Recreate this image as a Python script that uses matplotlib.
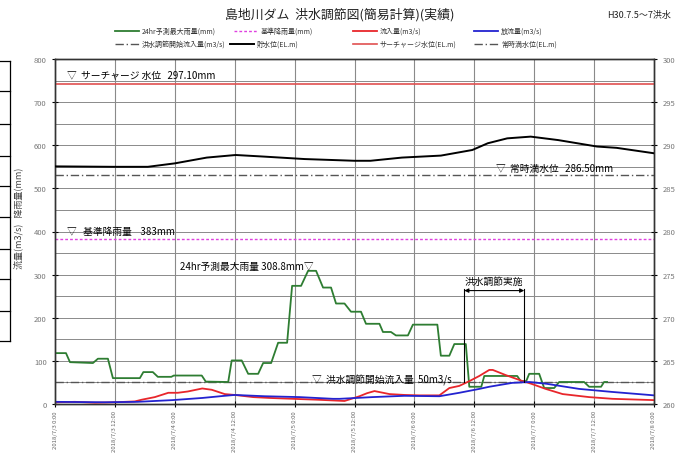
import matplotlib
matplotlib.use("Agg")
import matplotlib.pyplot as plt
from matplotlib.lines import Line2D
import numpy as np

plt.rcParams['font.family'] = ['Noto Sans CJK JP', 'DejaVu Sans']

# hours from 2018/7/3 0:00
tick_hours = [0, 12, 24, 36, 48, 60, 72, 84, 96, 108, 120]
tick_labels = ['2018/7/3 0:00', '2018/7/3 12:00', '2018/7/4 0:00', '2018/7/4 12:00',
               '2018/7/5 0:00', '2018/7/5 12:00', '2018/7/6 0:00', '2018/7/6 12:00',
               '2018/7/7 0:00', '2018/7/7 12:00', '2018/7/8 0:00']

# 24hr forecast maximum rainfall (mm)
rain_h = [0, 2.2, 3, 7.6, 8.6, 10.6, 11.6, 17, 17.7, 19.6, 20.6, 23.3, 23.8, 29.4, 30.2, 34.7,
          35.4, 37.4, 38.7, 40.7, 41.7, 43.3, 44.7, 46.5, 47.5, 49.3, 50.7, 52.3, 53.7, 55.3,
          56.3, 58, 59.3, 61.3, 62.3, 65, 65.7, 67.3, 68.3, 70.7, 71.7, 76.6, 77.3, 79, 80,
          82.3, 83, 85.4, 86, 92.6, 93.3, 94.4, 95, 97, 98, 100, 101, 106, 107, 109.4, 110, 110.6]
rain_v = [118, 118, 97, 95, 105, 105, 60, 60, 74, 74, 63, 63, 66, 66, 52, 51,
          101, 101, 70, 70, 95, 95, 142, 142, 274, 274, 308.8, 308.8, 270, 270,
          233, 233, 214, 214, 186, 186, 167, 167, 159, 159, 184, 184, 112, 112, 139,
          139, 40, 40, 65, 65, 53, 53, 70, 70, 37, 37, 51, 51, 40, 40, 51, 51]

# inflow (m3/s)
inflow_h = [0, 4, 8, 12, 16, 17.4, 20, 22.7, 24.6, 26.6, 29.5, 31.4, 34, 36, 39.7, 43, 47.7,
            52.4, 58, 61, 62.5, 64, 67, 70, 73, 77, 79, 81, 83, 85, 87, 87.7, 90.3, 93.7,
            95.4, 98.3, 101.7, 107, 111.7, 120]
inflow_v = [4, 5, 3, 4, 6, 10, 16, 26, 26, 29, 36, 33, 23, 21, 16, 14, 12,
            10, 7, 18, 25, 30, 23, 21, 20, 20, 37, 42, 53, 65, 79, 79, 67, 53,
            47, 35, 23, 16, 12, 9]

# outflow (m3/s)
outflow_h = [0, 10, 16.5, 23.5, 29.5, 34, 36, 42, 49, 55.7, 57, 63.6, 70, 77, 81, 85, 87,
             91.6, 95, 98.4, 105, 111.6, 119, 120]
outflow_v = [5, 4, 5, 9, 14, 19, 21, 18, 16, 12, 12, 16, 19, 18, 26, 35, 40,
             49, 51, 47, 35, 28, 21, 20]

# reservoir level (EL.m)
level_h = [0, 11.6, 18.6, 24, 30.4, 36.2, 42, 50, 60, 63.2, 69.5, 77.3, 83.6, 86.7, 90.6,
           95.3, 100.8, 108.6, 112.5, 120]
level_v = [287.55, 287.5, 287.5, 287.9, 288.57, 288.87, 288.68, 288.4, 288.2, 288.2, 288.57,
           288.8, 289.45, 290.23, 290.8, 291.0, 290.6, 289.85, 289.7, 289.07]

surcharge_level = 297.10
normal_level = 286.50
base_rain = 383
start_inflow = 50
control_start, control_end = 82, 94

fig = plt.figure(figsize=(6.75, 4.56), dpi=100)
ax = fig.add_axes([55 / 675, 51 / 456, 599 / 675, 345 / 456])
ax2 = ax.twinx()

ax.set_xlim(0, 120)
ax.set_ylim(0, 800)
ax2.set_ylim(260, 300)

# grid
for y in np.arange(50, 800, 50):
    ax.axhline(y, color='#8a8a8a', lw=0.7, zorder=0)
for h in tick_hours[1:-1]:
    ax.axvline(h, color='#8a8a8a', lw=0.8, zorder=0)

dashdot = (0, (6, 2, 1, 2))
ax.plot(rain_h, rain_v, color='#2e7d32', lw=1.3, zorder=3)
ax.plot(inflow_h, inflow_v, color='#e8262b', lw=1.3, zorder=3)
ax.plot(outflow_h, outflow_v, color='#2323d0', lw=1.3, zorder=3)
ax.axhline(base_rain, color='#e040e0', lw=1.0, ls=(0, (2, 1.5)), zorder=2)
ax.axhline(start_inflow, color='#555555', lw=1.0, ls=dashdot, zorder=2)

ax2.plot(level_h, level_v, color='black', lw=1.4, zorder=3)
ax2.axhline(surcharge_level, color='#e05050', lw=1.2, zorder=2)
ax2.axhline(normal_level, color='#555555', lw=1.0, ls=dashdot, zorder=2)

# annotations
fs = 7
ax.text(2.4, 763, '▽  サーチャージ 水位   297.10mm', fontsize=fs, va='center', ha='left')
ax.text(88.4, 547, '▽  常時満水位   286.50mm', fontsize=fs, va='center', ha='left')
ax.text(2.4, 402, '▽   基準降雨量    383mm', fontsize=fs, va='center', ha='left')
ax.text(51.8, 319, '24hr予測最大雨量 308.8mm▽', fontsize=fs, va='center', ha='right')
ax.text(51.4, 58, '▽  洪水調節開始流入量  50m3/s', fontsize=fs, va='center', ha='left')
ax.text((control_start + control_end) / 2, 286, '洪水調節実施', fontsize=fs, va='center', ha='center')
for h in (control_start, control_end):
    ax.plot([h, h], [51, 267], color='black', lw=0.8, zorder=4)
ax.annotate('', xy=(control_start, 263), xytext=(control_end, 263),
            arrowprops=dict(arrowstyle='<|-|>', color='black', lw=0.8,
                            mutation_scale=6, shrinkA=0, shrinkB=0))

# axes and ticks
ax.set_yticks(np.arange(0, 801, 100))
ax2.set_yticks(np.arange(260, 301, 5))
ax.set_xticks(tick_hours)
ax.set_xticklabels(tick_labels, rotation=90, fontsize=4.3, color='#666666')
ax.tick_params(axis='y', labelsize=5.5, labelcolor='#777777', direction='inout', length=5)
ax2.tick_params(axis='y', labelsize=5.5, labelcolor='#777777', direction='inout', length=5)
ax.tick_params(axis='x', direction='inout', length=5, pad=2)
for sp in list(ax.spines.values()) + list(ax2.spines.values()):
    sp.set_color('#333333')
    sp.set_linewidth(1.0)

fig.text(18 / 675, 1 - 218 / 456, '流量(m3/s)   降雨量(mm)', rotation=90,
         fontsize=6.5, ha='center', va='center', color='#444444')

# titles
fig.text(340 / 675, 1 - 15 / 456, '島地川ダム  洪水調節図(簡易計算)(実績)', fontsize=9.3,
         ha='center', va='center', color='#222222')
fig.text(671 / 675, 1 - 15 / 456, 'H30.7.5～7洪水', fontsize=6.5,
         ha='right', va='center', color='#222222')

# legend: 2 rows x 4 columns drawn by hand
legend_labels = [['24hr予測最大雨量(mm)', '基準降雨量(mm)', '流入量(m3/s)', '放流量(m3/s)'],
                 ['洪水調節開始流入量(m3/s)', '貯水位(EL.m)', 'サーチャージ水位(EL.m)', '常時満水位(EL.m)']]
legend_styles = [[dict(color='#2e7d32', lw=1.3), dict(color='#e040e0', lw=1.0, ls=(0, (2, 1.5))),
                  dict(color='#e8262b', lw=1.3), dict(color='#2323d0', lw=1.3)],
                 [dict(color='#555555', lw=1.0, ls=dashdot), dict(color='black', lw=1.4),
                  dict(color='#e05050', lw=1.2), dict(color='#555555', lw=1.0, ls=dashdot)]]
col_x = [115, 234, 353, 474]
row_y = [32, 45]
for r in range(2):
    for c in range(4):
        x0 = col_x[c] - (4 if (r, c) == (1, 1) else 0)
        y = 1 - row_y[r] / 456
        fig.add_artist(Line2D([x0 / 675, (x0 + 24) / 675], [y, y],
                              transform=fig.transFigure, **legend_styles[r][c]))
        fig.text((x0 + 27) / 675, y, legend_labels[r][c], fontsize=5.0,
                 ha='left', va='center', color='#333333')

# table edge at the left margin
fig.add_artist(Line2D([10 / 675, 10 / 675], [1 - 62 / 456, 1 - 342 / 456],
                      transform=fig.transFigure, color='black', lw=0.9))
for y in [62, 92, 125, 157, 187, 218, 250, 280, 312, 342]:
    fig.add_artist(Line2D([0, 10 / 675], [1 - y / 456, 1 - y / 456],
                          transform=fig.transFigure, color='black', lw=0.9))

fig.savefig('out.png', dpi=100)
